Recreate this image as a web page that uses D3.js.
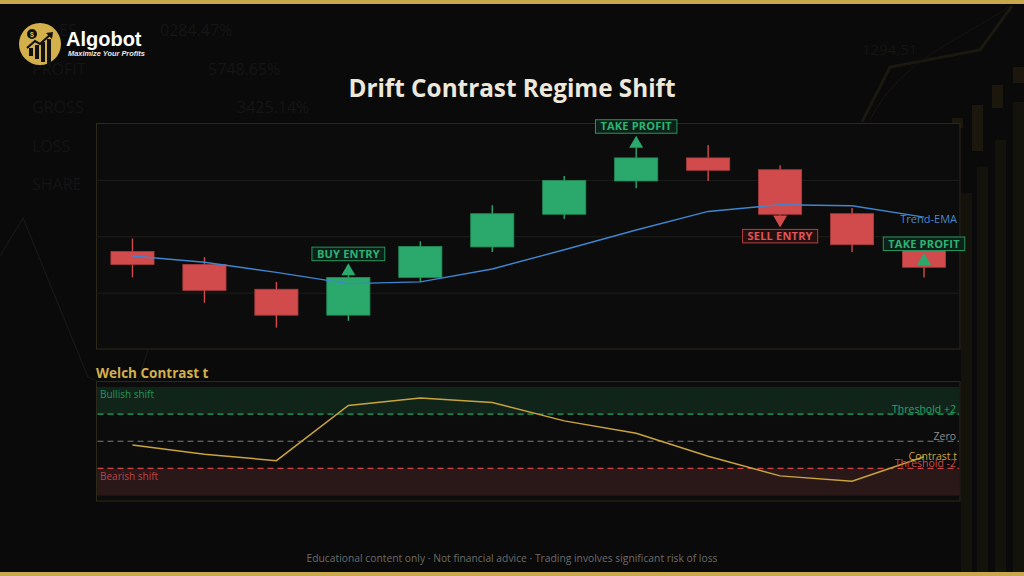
<!DOCTYPE html>
<html>
<head>
<meta charset="utf-8">
<script src="https://cdn.jsdelivr.net/npm/d3@7"></script>
<style>
  html, body { margin: 0; padding: 0; background: #0a0a0a; }
  svg { display: block; }
</style>
</head>
<body>
<script>
// Kerzen (Preis)
const bars   = ["1", "2", "3", "4", "5", "6", "7", "8", "9", "10", "11", "12"];
const opens  = [101.73, 101.50, 101.06, 100.60, 101.27, 101.81, 102.39, 102.98, 103.39, 103.18, 102.40, 101.75];
const highs  = [101.96, 101.63, 101.19, 101.31, 101.91, 102.55, 103.07, 103.57, 103.62, 103.26, 102.50, 101.80];
const lows   = [101.27, 100.82, 100.38, 100.50, 101.19, 101.72, 102.31, 102.85, 102.98, 102.37, 101.72, 101.27];
const closes = [101.50, 101.04, 100.60, 101.27, 101.82, 102.40, 102.99, 103.39, 103.17, 102.39, 101.85, 101.45];
const ema    = [101.65, 101.54, 101.36, 101.16, 101.19, 101.42, 101.76, 102.11, 102.44, 102.56, 102.54, 102.34];

// Signale
const signalBars   = ["4", "8", "10", "12"];
const signalLabels = ["BUY ENTRY", "TAKE PROFIT", "SELL ENTRY", "TAKE PROFIT"];
const signalDirs   = ["up", "up", "down", "up"];
const signalPrices = [101.31, 103.57, 102.37, 101.49];

// Welch t
const contrastT = [-0.27, -0.96, -1.43, 2.64, 3.18, 2.86, 1.50, 0.59, -1.10, -2.55, -2.94, -1.14];
const thresholds = [2, 0, -2];
const thresholdLabels = ["Threshold +2", "Zero", "Threshold -2"];
const zones = [[2, 4], [-4, -2]];
const zoneLabels = ["Bullish shift", "Bearish shift"];

// Hintergrund-Deko
const bgWords = ["SALES", "PROFIT", "GROSS", "LOSS", "SHARE"];
const bgNumbers = ["0284.47%", "5748.65%", "3425.14%"];

const GOLD = "#c9a84c";
const GREEN = "#2ba86b";
const RED = "#d14b4c";
const BLUE = "#3f86d0";
const FONT = "'Open Sans', 'Noto Sans', sans-serif";

const W = 1024, H = 576;
const svg = d3.select("body").append("svg")
    .attr("width", W)
    .attr("height", H)
    .style("font-family", FONT);

// ---------- Hintergrund ----------
const bg = svg.append("g");
bg.append("rect").attr("width", W).attr("height", H).attr("fill", "#0a0a0a");

bg.selectAll(".bgw")
    .data(bgWords)
    .join("text")
    .attr("x", 32)
    .attr("y", (d, i) => 36 + i * 38.5)
    .attr("font-size", 16)
    .attr("fill", "#141414")
    .text(d => d);
bg.selectAll(".bgn")
    .data(bgNumbers)
    .join("text")
    .attr("x", (d, i) => [160, 208, 237][i])
    .attr("y", (d, i) => 36 + i * 38.5)
    .attr("font-size", 16)
    .attr("fill", "#151515")
    .text(d => d);
bg.append("text").attr("x", 862).attr("y", 55).attr("font-size", 15)
    .attr("fill", "#151513").text("1294.51");

// linke Zickzack-Linie
bg.append("path")
    .attr("d", "M0,256 L23,218 L88,377 L97,381 M138,381 L148,350")
    .attr("fill", "none").attr("stroke", "#171717").attr("stroke-width", 1.3);
// rechts oben Linie
bg.append("path")
    .attr("d", "M862,122 L890,67 L980,50 L1012,6")
    .attr("fill", "none").attr("stroke", "#1b1810").attr("stroke-width", 3);
bg.append("path")
    .attr("d", "M870,120 C900,60 960,40 1010,6")
    .attr("fill", "none").attr("stroke", "#17150e").attr("stroke-width", 1);

// rechte Volumen-Balken und Kerzen
const volX = [961, 977, 995, 1013];
const volTop = [193, 167, 140, 102];
bg.selectAll(".vol")
    .data(volX)
    .join("rect")
    .attr("x", d => d)
    .attr("y", (d, i) => volTop[i])
    .attr("width", 11)
    .attr("height", (d, i) => 572 - volTop[i])
    .attr("fill", "#14130b");
const bgCandleX = [952, 972, 992, 1013];
const bgCandleTop = [118, 105, 85, 67];
const bgCandleBot = [128, 151, 108, 83];
bg.selectAll(".bgc")
    .data(bgCandleX)
    .join("rect")
    .attr("x", d => d)
    .attr("y", (d, i) => bgCandleTop[i])
    .attr("width", 11)
    .attr("height", (d, i) => bgCandleBot[i] - bgCandleTop[i])
    .attr("fill", "#1b170c");

// Goldleisten
svg.append("rect").attr("x", 0).attr("y", 0).attr("width", W).attr("height", 4).attr("fill", GOLD);
svg.append("rect").attr("x", 0).attr("y", 572).attr("width", W).attr("height", 4).attr("fill", GOLD);

// ---------- Logo ----------
const logo = svg.append("g").attr("transform", "translate(40,44)");
logo.append("circle").attr("r", 21).attr("fill", "#d4b04c");
const iconBars = [[-11, 4, 9], [-5, 1, 12], [1, -2, 15], [7, -5, 18]];
logo.selectAll(".ib")
    .data(iconBars)
    .join("rect")
    .attr("x", d => d[0])
    .attr("y", d => d[1])
    .attr("width", 4)
    .attr("height", d => d[2] - d[1] + 3)
    .attr("fill", "#111");
logo.append("path")
    .attr("d", "M-13,4 L-5,-3 L0,0 L11,-10")
    .attr("fill", "none").attr("stroke", "#111").attr("stroke-width", 2.2);
logo.append("path").attr("d", "M13,-12 L6,-11 L12,-5 Z").attr("fill", "#111");
logo.append("circle").attr("cx", -8).attr("cy", -10).attr("r", 5).attr("fill", "#111");
logo.append("text").attr("x", -8).attr("y", -7.5).attr("text-anchor", "middle")
    .attr("font-size", 7).attr("font-weight", 700).attr("fill", "#d4b04c")
    .attr("font-family", "'Liberation Sans', Arial, sans-serif").text("$");

svg.append("text")
    .attr("x", 66).attr("y", 46)
    .attr("font-family", "'Liberation Sans', Arial, sans-serif")
    .attr("font-size", 20).attr("font-weight", 700)
    .attr("fill", "#ffffff")
    .text("Algobot");
svg.append("text")
    .attr("x", 68).attr("y", 56)
    .attr("font-family", "'Liberation Sans', Arial, sans-serif")
    .attr("font-size", 7.4).attr("font-weight", 700).attr("font-style", "italic")
    .attr("fill", "#e8e8e8")
    .text("Maximize Your Profits");

// ---------- Titel ----------
svg.append("text")
    .attr("x", 512).attr("y", 97)
    .attr("text-anchor", "middle")
    .attr("font-size", 24.3).attr("font-weight", 700)
    .attr("fill", "#ede8dc")
    .text("Drift Contrast Regime Shift");

// ---------- Hauptchart ----------
const main = { left: 96.5, right: 960, top: 123.5, bottom: 349 };

const x = d3.scalePoint()
    .domain(bars)
    .range([main.left, main.right])
    .padding(0.5);
const y = d3.scaleLinear()
    .domain([100, 104])
    .range([main.bottom, main.top]);
const bodyW = x.step() * 0.6;

svg.append("rect")
    .attr("x", main.left).attr("y", main.top)
    .attr("width", main.right - main.left).attr("height", main.bottom - main.top)
    .attr("fill", "#0c0c0c")
    .attr("stroke", "#2c2919").attr("stroke-width", 1);

// Gitterlinien
svg.append("g")
    .attr("transform", `translate(${main.left},0)`)
    .call(d3.axisLeft(y).tickValues([101, 102, 103]).tickSize(-(main.right - main.left)).tickFormat(""))
    .call(g => g.select(".domain").remove())
    .call(g => g.selectAll("line").attr("stroke", "#1d1d1b"));

const candles = bars.map((b, i) => ({ b, o: opens[i], h: highs[i], l: lows[i], c: closes[i] }));

const cg = svg.append("g")
    .selectAll("g")
    .data(candles)
    .join("g");

cg.append("line")
    .attr("x1", d => x(d.b)).attr("x2", d => x(d.b))
    .attr("y1", d => y(d.h)).attr("y2", d => y(d.l))
    .attr("stroke", d => d.c >= d.o ? GREEN : RED)
    .attr("stroke-width", 1.4);

cg.append("rect")
    .attr("x", d => x(d.b) - bodyW / 2)
    .attr("width", bodyW)
    .attr("y", d => y(Math.max(d.o, d.c)))
    .attr("height", d => Math.max(1, Math.abs(y(d.o) - y(d.c))))
    .attr("fill", d => d.c >= d.o ? GREEN : RED)
    .attr("stroke", d => d.c >= d.o ? "#238a58" : "#a83c3d")
    .attr("stroke-width", 0.8);

// EMA
svg.append("path")
    .datum(ema)
    .attr("fill", "none")
    .attr("stroke", BLUE)
    .attr("stroke-width", 1.4)
    .attr("d", d3.line().x((d, i) => x(bars[i])).y(d => y(d)));

svg.append("text")
    .attr("x", 957).attr("y", y(ema[ema.length - 1]) + 6)
    .attr("text-anchor", "end")
    .attr("font-size", 11)
    .attr("fill", "#4a86c8")
    .text("Trend-EMA");

// Signale
const signals = signalBars.map((b, i) => ({ b, label: signalLabels[i], dir: signalDirs[i], p: signalPrices[i] }));
const sg = svg.append("g")
    .selectAll("g")
    .data(signals)
    .join("g")
    .attr("transform", d => `translate(${x(d.b)},${y(d.p)})`);

sg.append("path")
    .attr("d", d => d.dir === "up" ? "M-7,0 L7,0 L0,-12 Z" : "M-7,0 L7,0 L0,12 Z")
    .attr("fill", d => d.dir === "up" ? GREEN : RED);

const boxH = 13.5;
const boxes = sg.append("rect")
    .attr("y", d => d.dir === "up" ? -12 - 2.5 - boxH : 14)
    .attr("height", boxH)
    .attr("fill", d => d.dir === "up" ? "#0d2118" : "#251010")
    .attr("stroke", d => d.dir === "up" ? "#23965d" : "#b23d3e")
    .attr("stroke-width", 1);

const labels = sg.append("text")
    .attr("y", d => d.dir === "up" ? -12 - 2.5 - boxH / 2 : 14 + boxH / 2)
    .attr("dy", "0.36em")
    .attr("text-anchor", "middle")
    .attr("font-size", 11)
    .attr("font-weight", 700)
    .attr("letter-spacing", 0.2)
    .attr("fill", d => d.dir === "up" ? "#2fb374" : "#e05556")
    .text(d => d.label);

labels.each(function (d) { d.tw = this.getComputedTextLength(); });
boxes.attr("x", d => -(d.tw + 10) / 2).attr("width", d => d.tw + 10);

// ---------- Unteres Panel ----------
const low = { left: 96.5, right: 960, top: 381.5, bottom: 501 };
const y2 = d3.scaleLinear()
    .domain([-4.4, 4.4])
    .range([low.bottom, low.top]);

svg.append("text")
    .attr("x", 96).attr("y", 378)
    .attr("font-size", 13.5).attr("font-weight", 700)
    .attr("fill", "#d4b04a")
    .text("Welch Contrast t");

svg.append("rect")
    .attr("x", low.left).attr("y", low.top)
    .attr("width", low.right - low.left).attr("height", low.bottom - low.top)
    .attr("fill", "#0c0c0c")
    .attr("stroke", "#2c2919").attr("stroke-width", 1);

const zoneFill = ["#10241a", "#2a1718"];
const zoneText = ["#23965d", "#b84448"];
svg.append("g")
    .selectAll("rect")
    .data(zones)
    .join("rect")
    .attr("x", low.left + 0.5)
    .attr("width", low.right - low.left - 1)
    .attr("y", d => y2(d[1]))
    .attr("height", d => y2(d[0]) - y2(d[1]))
    .attr("fill", (d, i) => zoneFill[i]);

svg.append("g")
    .selectAll("text")
    .data(zoneLabels)
    .join("text")
    .attr("x", 100)
    .attr("y", (d, i) => y2(zones[i][1]) + 11.5)
    .attr("font-size", 10)
    .attr("fill", (d, i) => zoneText[i])
    .text(d => d);

const thrColor = ["#25a565", "#7c7c7c", "#cc4546"];
const thrText = ["#2aa56a", "#8c8c8c", "#d04a4a"];
svg.append("g")
    .selectAll("line")
    .data(thresholds)
    .join("line")
    .attr("x1", low.left + 1).attr("x2", low.right - 1)
    .attr("y1", d => y2(d)).attr("y2", d => y2(d))
    .attr("stroke", (d, i) => thrColor[i])
    .attr("stroke-width", 1.2)
    .attr("stroke-dasharray", "6,4");

// Contrast-Linie
svg.append("path")
    .datum(contrastT)
    .attr("fill", "none")
    .attr("stroke", "#c9a43e")
    .attr("stroke-width", 1.5)
    .attr("d", d3.line().x((d, i) => x(bars[i])).y(d => y2(d)));

svg.append("g")
    .selectAll("text")
    .data(thresholds)
    .join("text")
    .attr("x", 956)
    .attr("y", d => y2(d) - 1.5)
    .attr("text-anchor", "end")
    .attr("font-size", 10.5)
    .attr("fill", (d, i) => thrText[i])
    .text((d, i) => thresholdLabels[i]);

svg.append("text")
    .attr("x", 957)
    .attr("y", y2(contrastT[contrastT.length - 1]) + 3)
    .attr("text-anchor", "end")
    .attr("font-size", 10.5)
    .attr("fill", "#c9a43e")
    .text("Contrast t");

// ---------- Fußzeile ----------
svg.append("text")
    .attr("x", 512).attr("y", 562)
    .attr("text-anchor", "middle")
    .attr("font-size", 10.3)
    .attr("fill", "#6b6b6b")
    .text("Educational content only · Not financial advice · Trading involves significant risk of loss");
</script>
</body>
</html>
